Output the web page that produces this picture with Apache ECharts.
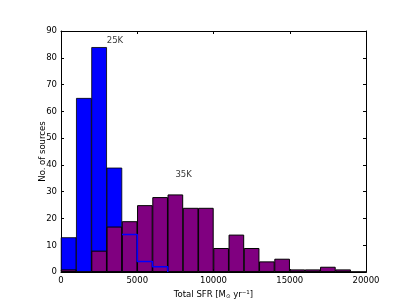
<!DOCTYPE html>
<html>
<head>
<meta charset="utf-8">
<script src="https://cdn.jsdelivr.net/npm/echarts@6/dist/echarts.min.js"></script>
<style>
html,body{margin:0;padding:0;background:#fff;}
#c{width:407px;height:305px;}
</style>
</head>
<body>
<div id="c"></div>
<script>
// Histogram bin starts (bin width 1000)
const binStarts = [0,1000,2000,3000,4000,5000,6000,7000,8000,9000,10000,11000,12000,13000,14000,15000,16000,17000,18000,19000];
const binWidth = 1000;
// 25K sample counts
const counts25K = [13,65,84,39,14,4,2,0,0,0,0,0,0,0,0,0,0,0,0,0];
// 35K sample counts
const counts35K = [1,0,8,17,19,25,28,29,24,24,9,14,9,4,5,1,1,2,1,0];
const xTicks = [0,5000,10000,15000,20000];
const yTicks = [0,10,20,30,40,50,60,70,80,90];
const annotations = [
  {text:'25K', x:3000, y:86.3},
  {text:'35K', x:7500, y:36.3}
];

// outline of the 25K histogram where it lies beneath the 35K bars
const outline = [];
let started = false;
for (let i = 0; i < binStarts.length; i++) {
  if (!started && counts25K[i] > 0 && counts25K[i] < counts35K[i]) started = true;
  if (started) {
    outline.push([binStarts[i], counts25K[i]]);
    outline.push([binStarts[i] + binWidth, counts25K[i]]);
    if (counts25K[i] === 0) break;
    if (i + 1 < binStarts.length && counts25K[i+1] === 0) {
      outline.push([binStarts[i] + binWidth, 0]);
      break;
    }
  }
}

const font = 'DejaVu Sans';
const fs = 8.5;
const W = 407, H = 305;
const grid = {left:61, right:41, top:31, bottom:31};
const xMin = xTicks[0], xMax = xTicks[xTicks.length-1];
const yMin = yTicks[0], yMax = yTicks[yTicks.length-1];
const barPx = (W - grid.left - grid.right) * binWidth / (xMax - xMin) + 0.4;
const chart = echarts.init(document.getElementById('c'), null, {renderer:'canvas'});
const tickStyle = {show:true, inside:true, length:3, lineStyle:{color:'#000', width:1}};
const plain = v => String(v);
const hist = arr => binStarts.map((b,i) => [b + binWidth/2, arr[i]]);
chart.setOption({
  animation:false,
  backgroundColor:'#fff',
  grid:Object.assign({containLabel:false}, grid),
  xAxis:[
    {type:'value', min:xMin, max:xMax, interval:xTicks[1]-xTicks[0], position:'bottom',
     axisLine:{show:true, onZero:false, lineStyle:{color:'#000', width:1}},
     axisTick:tickStyle, splitLine:{show:false},
     axisLabel:{color:'#000', fontFamily:font, fontSize:fs, margin:4, formatter:plain},
     name:'Total SFR [M{sub|⊙} yr{sup|−1}]', nameLocation:'middle', nameGap:14,
     nameTextStyle:{color:'#000', fontFamily:font, fontSize:fs,
       rich:{sub:{fontFamily:font, fontSize:5.5, color:'#000', padding:[4,0,0,0]},
             sup:{fontFamily:font, fontSize:5.5, color:'#000', padding:[0,0,4,0]}}}},
    {type:'value', min:xMin, max:xMax, interval:xTicks[1]-xTicks[0], position:'top',
     axisLine:{show:true, onZero:false, lineStyle:{color:'#000', width:1}},
     axisTick:tickStyle, axisLabel:{show:false}, splitLine:{show:false}}
  ],
  yAxis:[
    {type:'value', min:yMin, max:yMax, interval:yTicks[1]-yTicks[0], position:'left',
     axisLine:{show:true, onZero:false, lineStyle:{color:'#000', width:1}},
     axisTick:tickStyle, splitLine:{show:false},
     axisLabel:{color:'#000', fontFamily:font, fontSize:fs, margin:4, formatter:plain},
     name:'No. of sources', nameLocation:'middle', nameGap:14, nameMoveOverlap:false,
     nameTextStyle:{color:'#000', fontFamily:font, fontSize:fs}},
    {type:'value', min:yMin, max:yMax, interval:yTicks[1]-yTicks[0], position:'right',
     axisLine:{show:true, onZero:false, lineStyle:{color:'#000', width:1}},
     axisTick:tickStyle, axisLabel:{show:false}, splitLine:{show:false}}
  ],
  series:[
    {type:'bar', xAxisIndex:0, yAxisIndex:0, data:hist(counts25K), barWidth:barPx, barGap:'-100%',
     itemStyle:{color:'#0000ff', borderColor:'#000', borderWidth:0.8}, z:2},
    {type:'bar', xAxisIndex:0, yAxisIndex:0, data:hist(counts35K), barWidth:barPx, barGap:'-100%',
     itemStyle:{color:'#800080', borderColor:'#000', borderWidth:1}, z:3},
    {type:'line', xAxisIndex:0, yAxisIndex:0, data:outline, symbol:'none',
     lineStyle:{color:'#0000ff', width:1.5}, z:4},
    {type:'scatter', xAxisIndex:0, yAxisIndex:0, symbolSize:0,
     data:annotations.map(a=>({value:[a.x,a.y], name:a.text})),
     label:{show:true, position:[0,0], align:'left', verticalAlign:'middle',
       formatter:p=>p.name, color:'#000', fontFamily:font, fontSize:fs}, z:5}
  ]
});
</script>
</body>
</html>
